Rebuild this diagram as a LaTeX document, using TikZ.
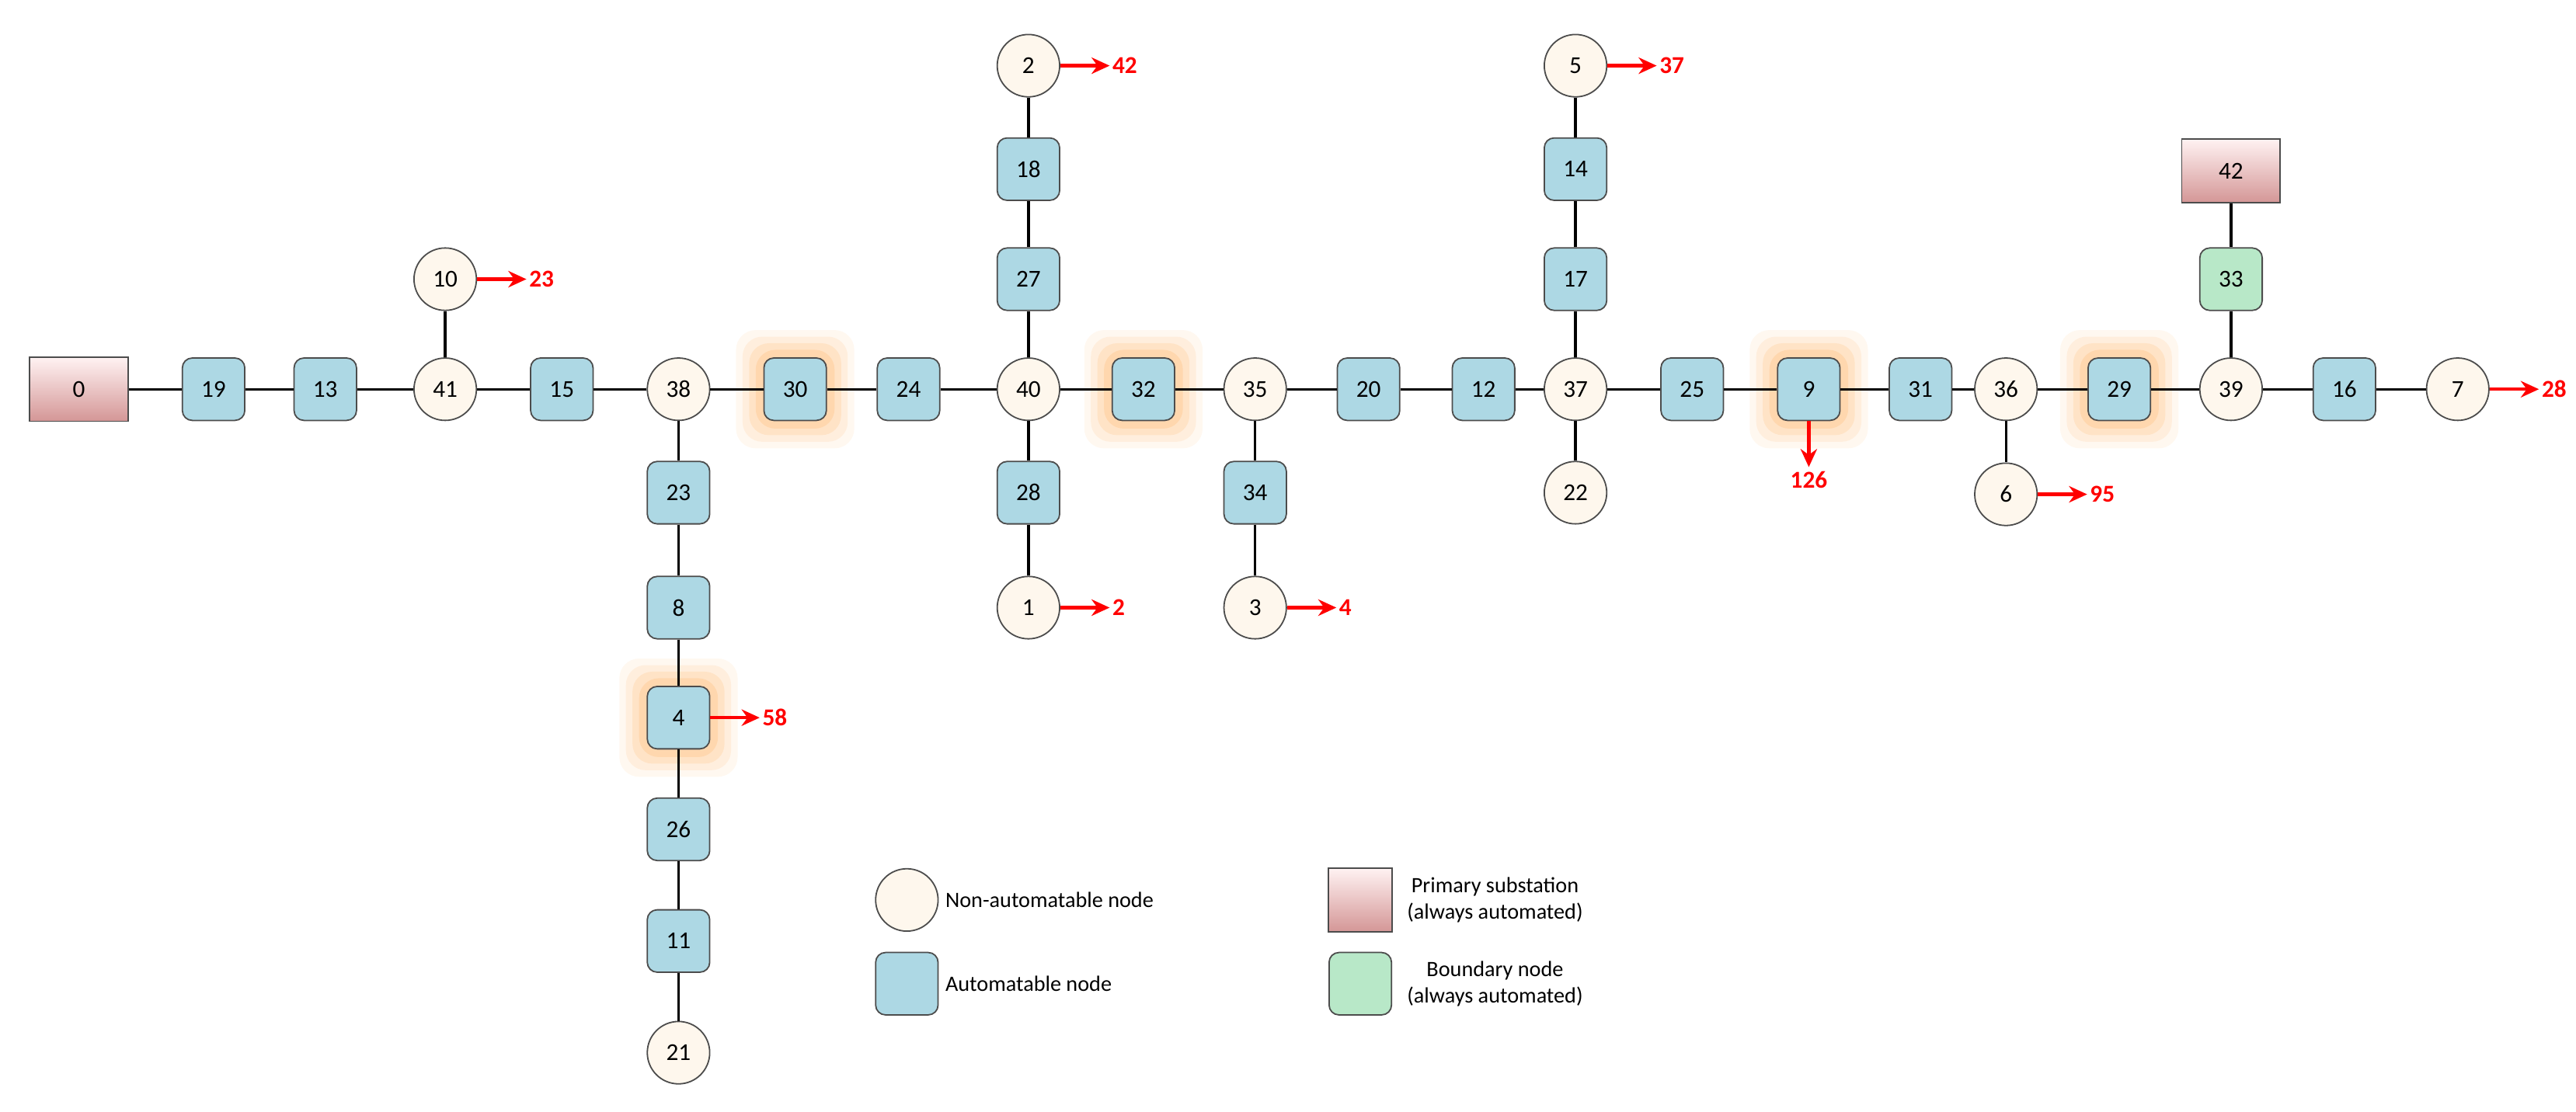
\documentclass[tikz,border=0pt]{standalone}
\usepackage{fontspec}
\usetikzlibrary{arrows.meta}
\setmainfont{Carlito}
\begin{document}
\begin{tikzpicture}[x=0.05cm,y=-0.05cm,
  every node/.style={font=\fontsize{21}{25}\selectfont},
  cn/.style={circle,draw=black!70,line width=1.2pt,fill=yellow!8!orange!6,minimum size=1.9cm,inner sep=0pt},
  sq/.style={rounded corners=0.3cm,draw=black!70,line width=1.2pt,minimum size=1.9cm,inner sep=0pt,fill={rgb,255:red,173;green,216;blue,228}},
  ps/.style={draw=black!70,line width=1.2pt,top color=red!5,bottom color={rgb,255:red,212;green,150;blue,150},minimum width=3cm,minimum height=1.95cm,inner sep=0pt},
  bn/.style={rounded corners=0.3cm,draw=black!70,line width=1.2pt,fill={rgb,255:red,184;green,232;blue,200},minimum size=1.9cm,inner sep=0pt},
  ln/.style={line width=2.2pt},
  ar/.style={red,line width=3pt,-{Stealth[length=0.55cm,width=0.5cm]}},
  al/.style={red,font=\fontsize{21}{24}\selectfont\bfseries,anchor=west,inner sep=1pt},
  lg/.style={font=\fontsize{19}{23}\selectfont,align=center}]
\useasboundingbox (0,0) rectangle (1568,677);
% glows
\foreach \gx/\gy in {484/237,696/237,1101/237,1290/237,413/437}{
  \foreach \r/\o in {36/0.06,32/0.08,28/0.1,24/0.12}{
    \fill[orange,opacity=\o,rounded corners=0.6cm] (\gx-\r,\gy-\r) rectangle (\gx+\r,\gy+\r);}}
% nodes
\node[ps] (n0) at (48,237) {0};
\node[sq] (n19) at (130,237) {19};
\node[sq] (n13) at (198,237) {13};
\node[cn] (n41) at (271,237) {41};
\node[sq] (n15) at (342,237) {15};
\node[cn] (n38) at (413,237) {38};
\node[sq] (n30) at (484,237) {30};
\node[sq] (n24) at (553,237) {24};
\node[cn] (n40) at (626,237) {40};
\node[sq] (n32) at (696,237) {32};
\node[cn] (n35) at (764,237) {35};
\node[sq] (n20) at (833,237) {20};
\node[sq] (n12) at (903,237) {12};
\node[cn] (n37) at (959,237) {37};
\node[sq] (n25) at (1030,237) {25};
\node[sq] (n9) at (1101,237) {9};
\node[sq] (n31) at (1169,237) {31};
\node[cn] (n36) at (1221,237) {36};
\node[sq] (n29) at (1290,237) {29};
\node[cn] (n39) at (1358,237) {39};
\node[sq] (n16) at (1427,237) {16};
\node[cn] (n7) at (1496,237) {7};
\node[cn] (n10) at (271,170) {10};
\node[sq] (n27) at (626,170) {27};
\node[sq] (n18) at (626,103) {18};
\node[cn] (n2) at (626,40) {2};
\node[sq] (n28) at (626,300) {28};
\node[cn] (n1) at (626,370) {1};
\node[sq] (n34) at (764,300) {34};
\node[cn] (n3) at (764,370) {3};
\node[sq] (n17) at (959,170) {17};
\node[sq] (n14) at (959,103) {14};
\node[cn] (n5) at (959,40) {5};
\node[cn] (n22) at (959,300) {22};
\node[sq] (n23) at (413,300) {23};
\node[sq] (n8) at (413,370) {8};
\node[sq] (n4) at (413,437) {4};
\node[sq] (n26) at (413,505) {26};
\node[sq] (n11) at (413,573) {11};
\node[cn] (n21) at (413,641) {21};
\node[cn] (n6) at (1221,301) {6};
\node[bn] (n33) at (1358,170) {33};
\node[ps] (n42) at (1358,104) {42};
% edges
\foreach \a/\b in {0/19,19/13,13/41,41/15,15/38,38/30,30/24,24/40,40/32,32/35,35/20,20/12,12/37,37/25,25/9,9/31,31/36,36/29,29/39,39/16,16/7,
  41/10,40/27,27/18,18/2,40/28,28/1,35/34,34/3,37/17,17/14,14/5,37/22,38/23,23/8,8/4,4/26,26/11,11/21,36/6,42/33,33/39}
  \draw[ln] (n\a) -- (n\b);
% arrows
\foreach \n/\v in {2/42,10/23,5/37,1/2,3/4,4/58,6/95,7/28}{
  \draw[ar] (n\n.east) -- ++(30,0) node[al] {\v};}
\draw[ar] (n9.south) -- ++(0,28) node[red,font=\fontsize{21}{24}\selectfont\bfseries,anchor=north,inner sep=2pt] {126};
% legend
\node[cn] (l1) at (552,548) {};
\node[lg,anchor=west] at (573,548) {Non-automatable node};
\node[sq] (l2) at (552,599) {};
\node[lg,anchor=west] at (573,599) {Automatable node};
\node[ps,minimum width=1.95cm] (l3) at (828,548) {};
\node[lg] at (910,548) {Primary substation\\(always automated)};
\node[bn] (l4) at (828,599) {};
\node[lg] at (910,599) {Boundary node\\(always automated)};
\end{tikzpicture}
\end{document}
